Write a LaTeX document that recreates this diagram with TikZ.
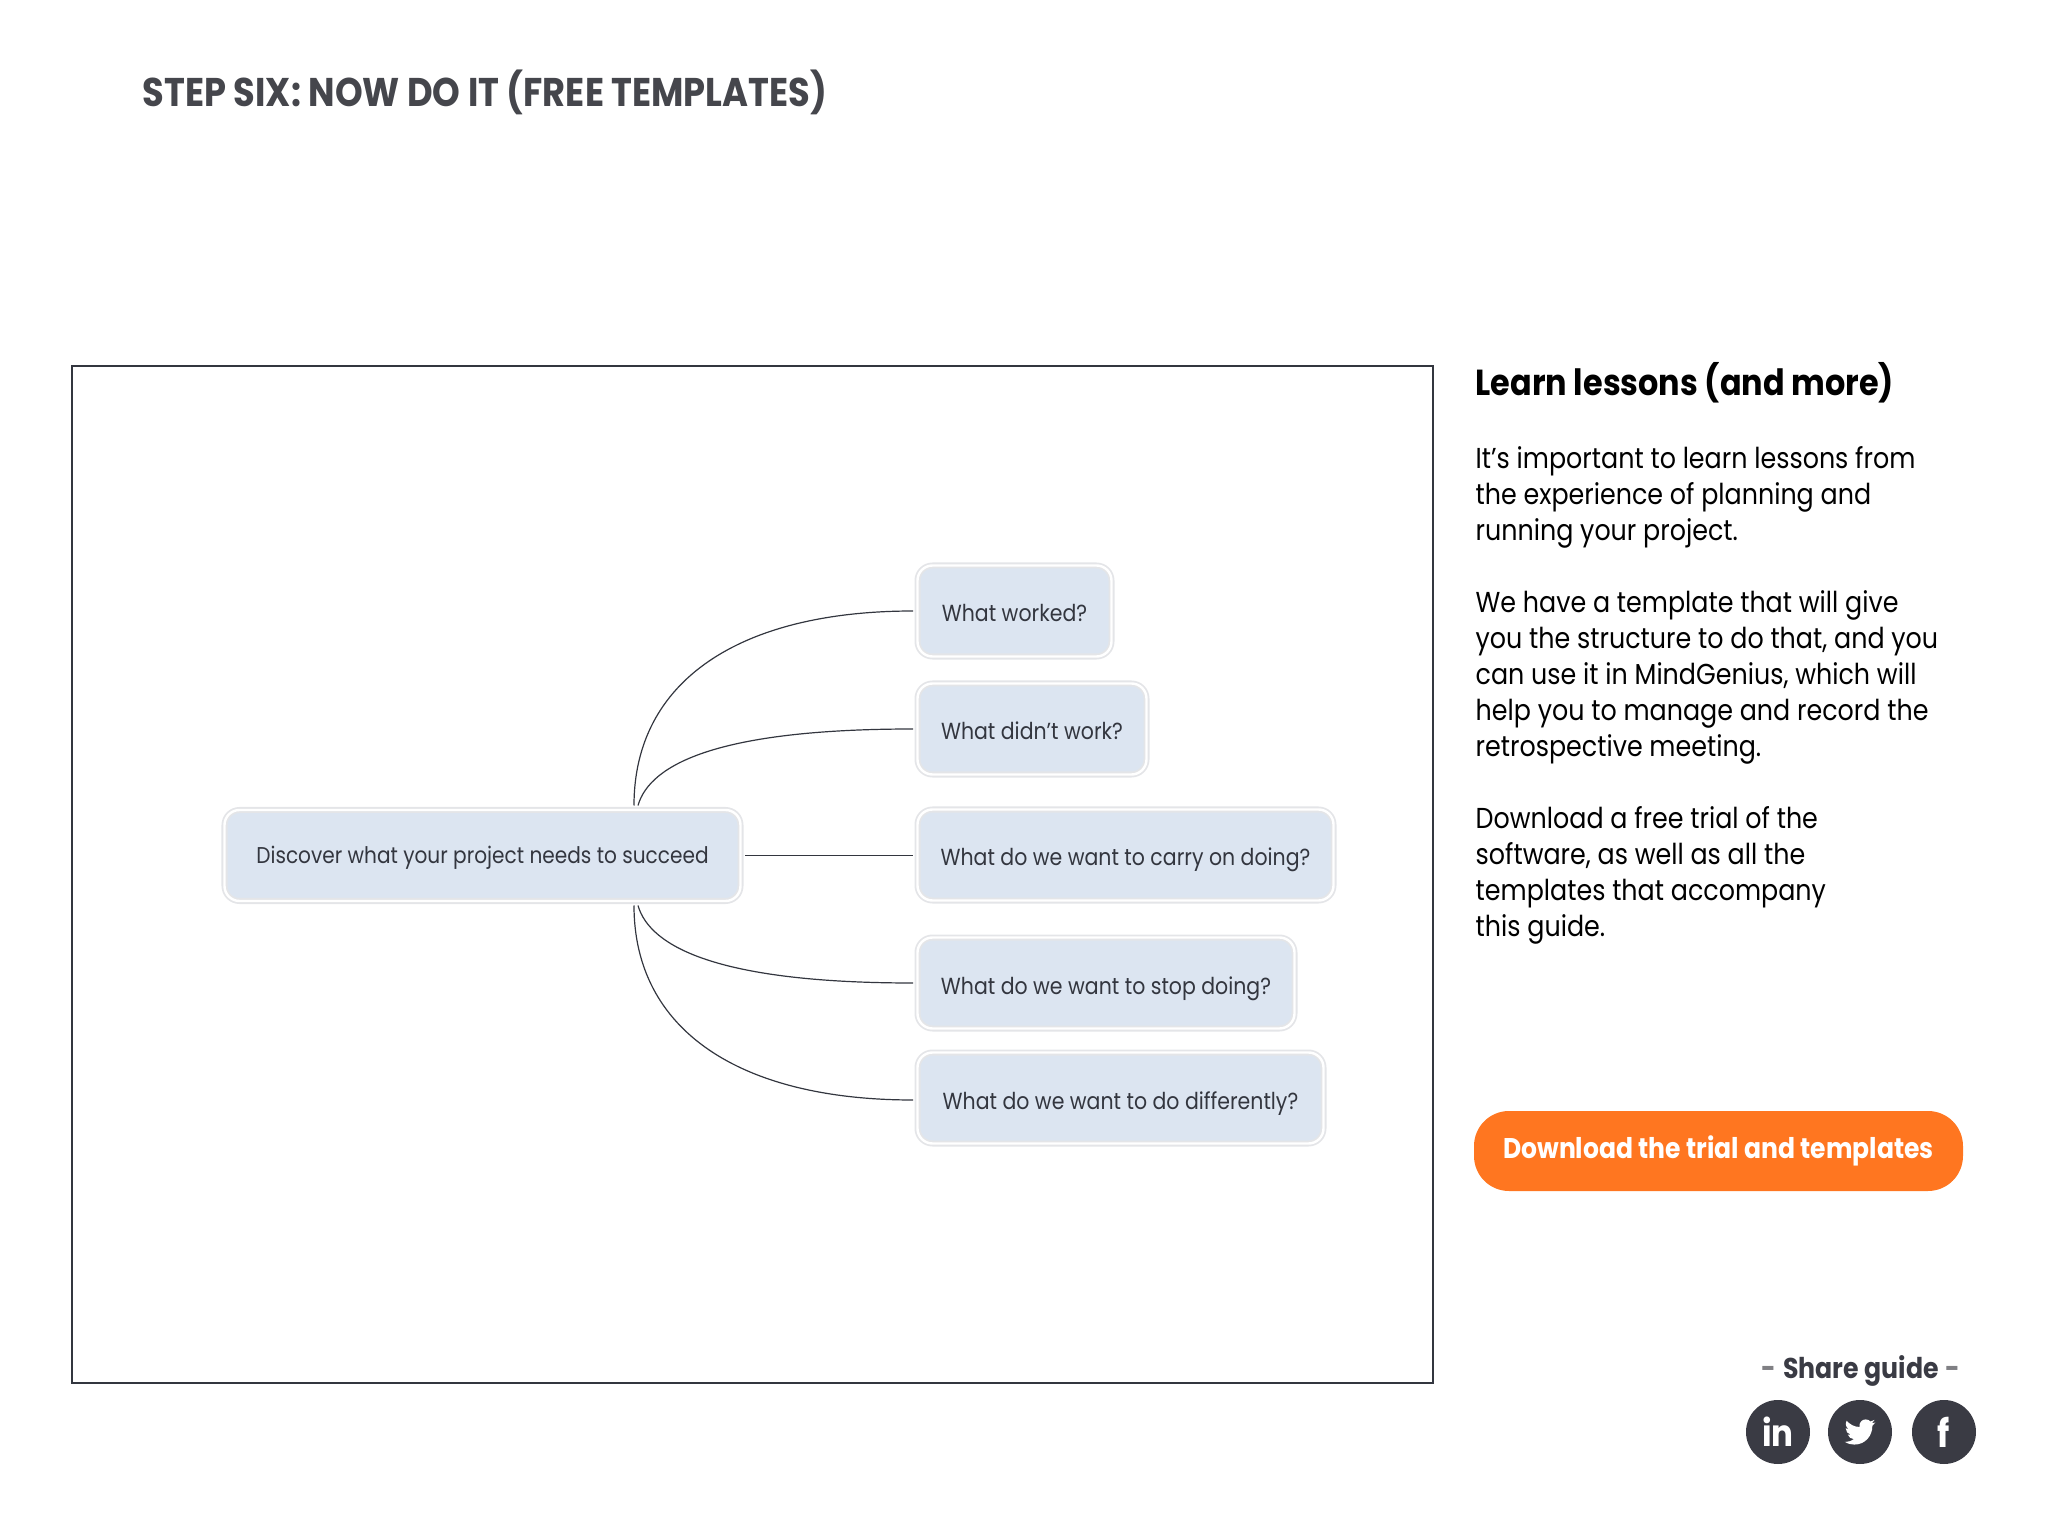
\documentclass[tikz,border=0pt]{standalone}
\usepackage{fontspec}
\setmainfont{Poppins}[FakeStretch=0.88]
\usepackage{xcolor}
\usepackage{tikz}
\usetikzlibrary{arrows.meta,positioning,calc}
\definecolor{BoxBlue}{RGB}{220,229,241}
\definecolor{RingGray}{RGB}{228,229,232}
\definecolor{InkDark}{RGB}{51,54,63}
\definecolor{TitleGray}{RGB}{69,70,76}
\definecolor{IconDark}{RGB}{58,59,68}
\definecolor{ButtonOrange}{RGB}{255,118,32}
\definecolor{DashGray}{RGB}{128,128,132}

\begin{document}
\begin{tikzpicture}[
  topic/.style={
    draw=RingGray,
    double=white,
    double distance=0.024cm,
    line width=0.018cm,
    rounded corners=0.15cm,
    fill=BoxBlue,
    minimum height=0.91cm,
    inner sep=0pt,
    outer sep=0.045cm,
    text=InkDark,
    text height=0.25cm,
    text depth=0.1cm,
    font=\fontsize{6.5pt}{8pt}\selectfont
  },
  branch/.style={topic,anchor=west,text height=0.3cm,text depth=0.08cm,
    font=\fontsize{6.62pt}{8pt}\selectfont},
  link/.style={draw=InkDark,line width=0.012cm},
  body/.style={anchor=north west,align=left,inner sep=0pt,text=black,
    font=\fontsize{8.2pt}{10.25pt}\selectfont},
  social/.style={circle,fill=IconDark,minimum size=0.64cm,inner sep=0pt,text=white}
]
\useasboundingbox (0,0) rectangle (20.48,-15.36);

\node[anchor=west,inner sep=0pt,text=TitleGray,font=\fontsize{11.4pt}{13pt}\selectfont\bfseries] (title) at (1.42,-0.92) {STEP SIX: NOW DO IT (FREE TEMPLATES)};

\node[draw=InkDark,line width=0.015cm,minimum width=13.61cm,minimum height=10.17cm,inner sep=0pt] (panel) at (7.525,-8.745) {};

\node[topic,minimum width=5.16cm] (root) at (4.825,-8.555) {Discover what your project needs to succeed};
\node[branch,minimum width=1.94cm] (worked) at (9.13,-6.11) {What worked?};
\node[branch,minimum width=2.29cm] (didnt) at (9.13,-7.29) {What didn’t work?};
\node[branch,minimum width=4.16cm] (carry) at (9.13,-8.55) {What do we want to carry on doing?};
\node[branch,minimum width=3.77cm] (stop) at (9.13,-9.83) {What do we want to stop doing?};
\node[branch,minimum width=4.06cm] (differ) at (9.13,-10.98) {What do we want to do differently?};

\coordinate (rootNa) at ([xshift=1.515cm]root.north);
\coordinate (rootNb) at ([xshift=1.555cm]root.north);
\coordinate (rootSa) at ([xshift=1.515cm]root.south);
\coordinate (rootSb) at ([xshift=1.555cm]root.south);
\coordinate (differIn) at ([yshift=-0.02cm]differ.west);

\draw[link] (rootNa) .. controls +(0,1.25) and +(-1.73,0) .. (worked.west);
\draw[link] (rootNb) .. controls +(0.12,0.42) and +(-1.93,0) .. (didnt.west);
\draw[link] (root.east) -- (root.east -| carry.west);
\draw[link] (rootSb) .. controls +(0.12,-0.42) and +(-1.93,0) .. (stop.west);
\draw[link] (rootSa) .. controls +(0,-1.25) and +(-1.73,0) .. (differIn);

\node[anchor=west,inner sep=0pt,text=black,font=\fontsize{10.3pt}{12pt}\selectfont\bfseries] (head) at (14.75,-3.83) {Learn lessons (and more)};
\node[body] (parOne) at (14.75,-4.455) {It’s important to learn lessons from\\the experience of planning and\\running your project.};
\node[body] (parTwo) at (14.75,-5.895) {We have a template that will give\\you the structure to do that, and you\\can use it in MindGenius, which will\\help you to manage and record the\\retrospective meeting.};
\node[body] (parThree) at (14.75,-8.055) {Download a free trial of the\\software, as well as all the\\templates that accompany\\this guide.};

\node[fill=ButtonOrange,rounded corners=0.35cm,minimum width=4.89cm,minimum height=0.8cm,inner sep=0pt,text=white,font=\fontsize{8.1pt}{10pt}\selectfont\bfseries] (button) at (17.185,-11.51) {Download the trial and templates};

\node[inner sep=0pt,text=IconDark,font=\fontsize{8.15pt}{10pt}\selectfont\bfseries] (share) at (18.61,-13.71) {\textcolor{DashGray}{-}\hspace{0.07cm}Share guide\hspace{0.07cm}\textcolor{DashGray}{-}};

\node[social,font=\fontsize{10.5pt}{11pt}\selectfont\bfseries] (linkedin) at (17.78,-14.32) {in};
\node[social] (twitter) at (18.6,-14.32) {};
\node[social,font=\fontsize{11pt}{11pt}\selectfont\bfseries] (facebook) at (19.44,-14.32) {f};

\fill[white,shift={(twitter.center)},xshift=-0.155cm,yshift=-0.155cm,x=0.0129cm,y=0.0129cm]
  (24,19.43) .. controls (23.1,19.0) .. (21.13,18.66)
  .. controls (22.2,19.3) .. (23.29,21.38)
  .. controls (22.3,20.8) and (21.3,20.4) .. (20.16,20.2)
  .. controls (18.3,22.3) and (14.6,22.3) .. (12.9,20.3)
  .. controls (11.7,19.1) and (11.4,17.6) .. (11.78,15.9)
  .. controls (7.69,15.9) and (4.07,17.87) .. (1.64,20.84)
  .. controls (1.2,20.1) and (0.97,19.2) .. (0.97,18.36)
  .. controls (0.97,16.65) and (1.84,15.15) .. (3.16,14.27)
  .. controls (2.4,14.3) and (1.6,14.5) .. (0.93,14.88)
  -- (0.93,14.82)
  .. controls (0.93,12.4) and (2.6,10.5) .. (4.88,10.0)
  .. controls (4.1,9.8) and (3.4,9.75) .. (2.67,9.9)
  .. controls (3.3,8.0) and (5.1,6.5) .. (7.27,6.5)
  .. controls (5.5,5.1) and (3.4,4.4) .. (1.17,4.4)
  .. controls (0.8,4.4) and (0.4,4.43) .. (0,4.46)
  .. controls (2.2,3.0) and (4.8,2.25) .. (7.56,2.25)
  .. controls (16.6,2.25) and (21.56,9.75) .. (21.56,16.2)
  .. controls (21.56,16.4) and (21.56,16.6) .. (21.55,16.85)
  .. controls (22.5,17.5) and (23.4,18.4) .. (24,19.43) -- cycle;
\end{tikzpicture}
\end{document}
